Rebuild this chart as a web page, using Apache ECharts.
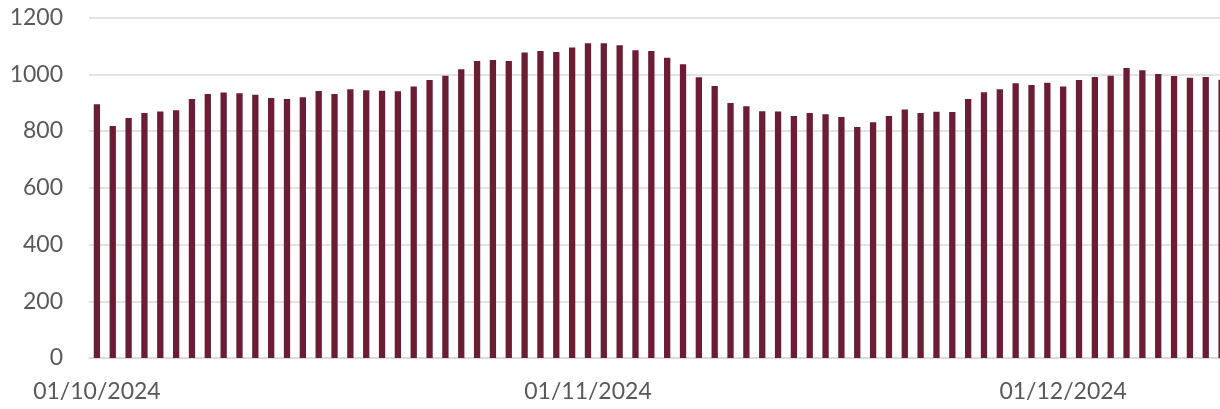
<!DOCTYPE html>
<html>
<head>
<meta charset="utf-8">
<script src="https://cdn.jsdelivr.net/npm/echarts@6/dist/echarts.min.js"></script>
<style>
html,body{margin:0;padding:0;background:#fff;overflow:hidden;width:1220px;height:409px;}
#chart{width:1232px;height:409px;}
</style>
</head>
<body>
<div id="chart"></div>
<script>
var categories = [
"01/10/2024","02/10/2024","03/10/2024","04/10/2024","05/10/2024","06/10/2024","07/10/2024","08/10/2024","09/10/2024","10/10/2024",
"11/10/2024","12/10/2024","13/10/2024","14/10/2024","15/10/2024","16/10/2024","17/10/2024","18/10/2024","19/10/2024","20/10/2024",
"21/10/2024","22/10/2024","23/10/2024","24/10/2024","25/10/2024","26/10/2024","27/10/2024","28/10/2024","29/10/2024","30/10/2024",
"31/10/2024","01/11/2024","02/11/2024","03/11/2024","04/11/2024","05/11/2024","06/11/2024","07/11/2024","08/11/2024","09/11/2024",
"10/11/2024","11/11/2024","12/11/2024","13/11/2024","14/11/2024","15/11/2024","16/11/2024","17/11/2024","18/11/2024","19/11/2024",
"20/11/2024","21/11/2024","22/11/2024","23/11/2024","24/11/2024","25/11/2024","26/11/2024","27/11/2024","28/11/2024","29/11/2024",
"30/11/2024","01/12/2024","02/12/2024","03/12/2024","04/12/2024","05/12/2024","06/12/2024","07/12/2024","08/12/2024","09/12/2024",
"10/12/2024","11/12/2024"
];
var values = [
894,818,846,863,869,873,913,930,936,933,
928,916,913,919,941,930,947,944,942,940,
957,980,995,1018,1047,1050,1047,1077,1082,1078,
1094,1109,1109,1102,1085,1082,1058,1035,989,959,
899,887,870,869,853,863,859,849,814,831,
853,876,863,868,867,913,937,947,968,962,
970,957,980,990,995,1022,1014,1001,994,988,
990,981
];
var yTicks = [0,200,400,600,800,1000,1200];
var shownLabels = ["01/10/2024","01/11/2024","01/12/2024"];

var chart = echarts.init(document.getElementById('chart'), null, {renderer:'canvas'});
chart.setOption({
  animation:false,
  backgroundColor:'#ffffff',
  grid:{left:89, top:17.5, width:1140.5, height:340.5, containLabel:false, outerBoundsMode:'none'},
  xAxis:{
    type:'category',
    data:categories,
    boundaryGap:true,
    axisLine:{show:true, lineStyle:{color:'#d9d9d9', width:1.5}},
    axisTick:{show:false},
    axisLabel:{
      interval:function(i, v){ return shownLabels.indexOf(v) >= 0; },
      color:'#595959', fontFamily:'Lato', fontSize:23, margin:22,
      hideOverlap:false
    }
  },
  yAxis:{
    type:'value',
    min:yTicks[0], max:yTicks[yTicks.length-1], interval:200,
    axisLine:{show:false},
    axisTick:{show:false},
    splitLine:{lineStyle:{color:'#d9d9d9', width:1.5}},
    axisLabel:{color:'#595959', fontFamily:'Lato', fontSize:23, margin:26,
      formatter:function(v){ return String(v); }}
  },
  series:[{
    type:'bar',
    data:values,
    barWidth:6.3,
    itemStyle:{color:'#6b1d35'}
  }]
});
</script>
</body>
</html>
